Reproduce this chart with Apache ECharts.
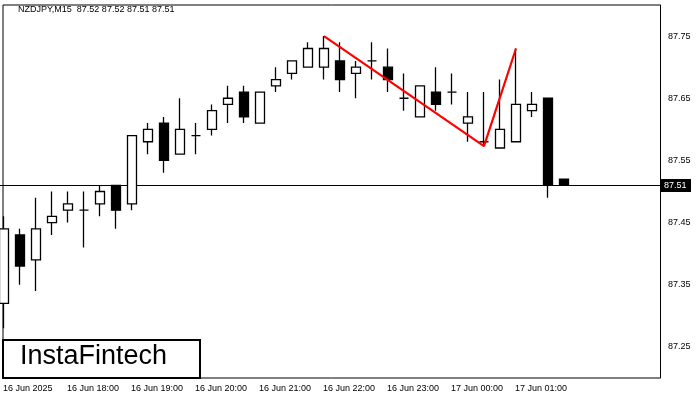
<!DOCTYPE html>
<html><head><meta charset="utf-8">
<script src="https://cdn.jsdelivr.net/npm/echarts@6/dist/echarts.min.js"></script>
<style>html,body{margin:0;padding:0;background:#fff}#c{width:700px;height:400px}</style>
</head><body><div id="c"></div>
<script>
const times = ['16 Jun 2025','','','','16 Jun 18:00','','','','16 Jun 19:00','','','','16 Jun 20:00','','','','16 Jun 21:00','','','','16 Jun 22:00','','','','16 Jun 23:00','','','','17 Jun 00:00','','','','17 Jun 01:00','','','','','','','','',''];
// [open, close, low, high]
const candles = [
[87.32,87.44,87.28,87.46],[87.43,87.38,87.35,87.44],[87.39,87.44,87.34,87.49],[87.45,87.46,87.43,87.50],
[87.47,87.48,87.45,87.50],[87.47,87.47,87.41,87.50],[87.48,87.50,87.46,87.51],[87.51,87.47,87.44,87.51],
[87.48,87.59,87.47,87.59],[87.58,87.60,87.56,87.61],[87.61,87.55,87.53,87.62],[87.56,87.60,87.56,87.65],
[87.59,87.59,87.56,87.61],[87.60,87.63,87.59,87.64],[87.64,87.65,87.61,87.67],[87.66,87.62,87.61,87.67],
[87.61,87.66,87.61,87.66],[87.67,87.68,87.66,87.70],[87.69,87.71,87.68,87.71],[87.70,87.73,87.70,87.74],
[87.70,87.73,87.68,87.75],[87.71,87.68,87.66,87.74],[87.69,87.70,87.65,87.71],[87.71,87.71,87.68,87.74],
[87.70,87.68,87.66,87.73],[87.65,87.65,87.63,87.69],[87.62,87.67,87.62,87.67],[87.66,87.64,87.63,87.70],
[87.66,87.66,87.64,87.69],[87.61,87.62,87.58,87.66],[87.58,87.58,87.575,87.66],[87.57,87.60,87.57,87.68],
[87.58,87.64,87.58,87.73],[87.63,87.64,87.62,87.66],[87.65,87.51,87.49,87.65],[87.52,87.51,87.51,87.52]
];
const pattern = [];
for (let i = 0; i < times.length; i++) pattern.push('-');
pattern[20] = 87.75; pattern[30] = 87.573; pattern[32] = 87.73;
const lastPrice = 87.51;
const yLabels = [87.25,87.35,87.45,87.55,87.65,87.75];

const chart = echarts.init(document.getElementById('c'));
chart.setOption({
  animation:false,
  backgroundColor:'#fff',
  grid:{left:-4,right:32,top:5,bottom:22,outerBoundsMode:'none',containLabel:false},
  xAxis:{type:'category',data:times,boundaryGap:true,
    axisLine:{show:false},axisTick:{show:false},
    axisLabel:{interval:0,align:'left',margin:6,padding:[0,0,0,-1],color:'#000',fontSize:9,fontFamily:'Liberation Sans'},
    splitLine:{show:false}},
  yAxis:{type:'value',position:'right',offset:-8,min:87.2,max:87.8,interval:0.05,scale:true,
    axisLine:{show:true,lineStyle:{color:'#000'}},axisTick:{show:false},splitLine:{show:false},
    axisLabel:{color:'#000',fontSize:9,fontFamily:'Liberation Sans',margin:8,
      formatter:v=>yLabels.some(l=>Math.abs(l-v)<1e-6)?v.toFixed(2):''}},
  series:[
    {type:'candlestick',data:candles,barWidth:10,
     itemStyle:{color:'#fff',color0:'#000',borderColor:'#000',borderColor0:'#000',borderWidth:1.3}},
    {type:'line',data:pattern,connectNulls:true,symbol:'none',lineStyle:{color:'#ff0000',width:2.2}}
  ],
  graphic:[
    {type:'line',shape:{x1:3,y1:5,x2:660,y2:5},style:{stroke:'#000',lineWidth:1}},
    {type:'line',shape:{x1:3,y1:5,x2:3,y2:378},style:{stroke:'#000',lineWidth:1}},
    {type:'line',shape:{x1:3,y1:378,x2:660,y2:378},style:{stroke:'#000',lineWidth:1}},
    {type:'line',shape:{x1:0,y1:185.5,x2:660,y2:185.5},style:{stroke:'#000',lineWidth:1}},
    {type:'rect',shape:{x:661,y:179,width:30,height:13},style:{fill:'#000'}},
    {type:'text',left:664,top:181,style:{text:lastPrice.toFixed(2),fill:'#fff',font:'9px "Liberation Sans"'}},
    {type:'text',left:18,top:5,style:{text:'NZDJPY,M15  87.52 87.52 87.51 87.51',fill:'#000',font:'9px "Liberation Sans"'}},
    {type:'rect',shape:{x:3,y:340,width:197,height:38},style:{fill:'#fff',stroke:'#000',lineWidth:2}},
    {type:'text',left:20,top:343,style:{text:'InstaFintech',fill:'#000',font:'500 27px "Liberation Sans"'}}
  ]
});
</script></body></html>
